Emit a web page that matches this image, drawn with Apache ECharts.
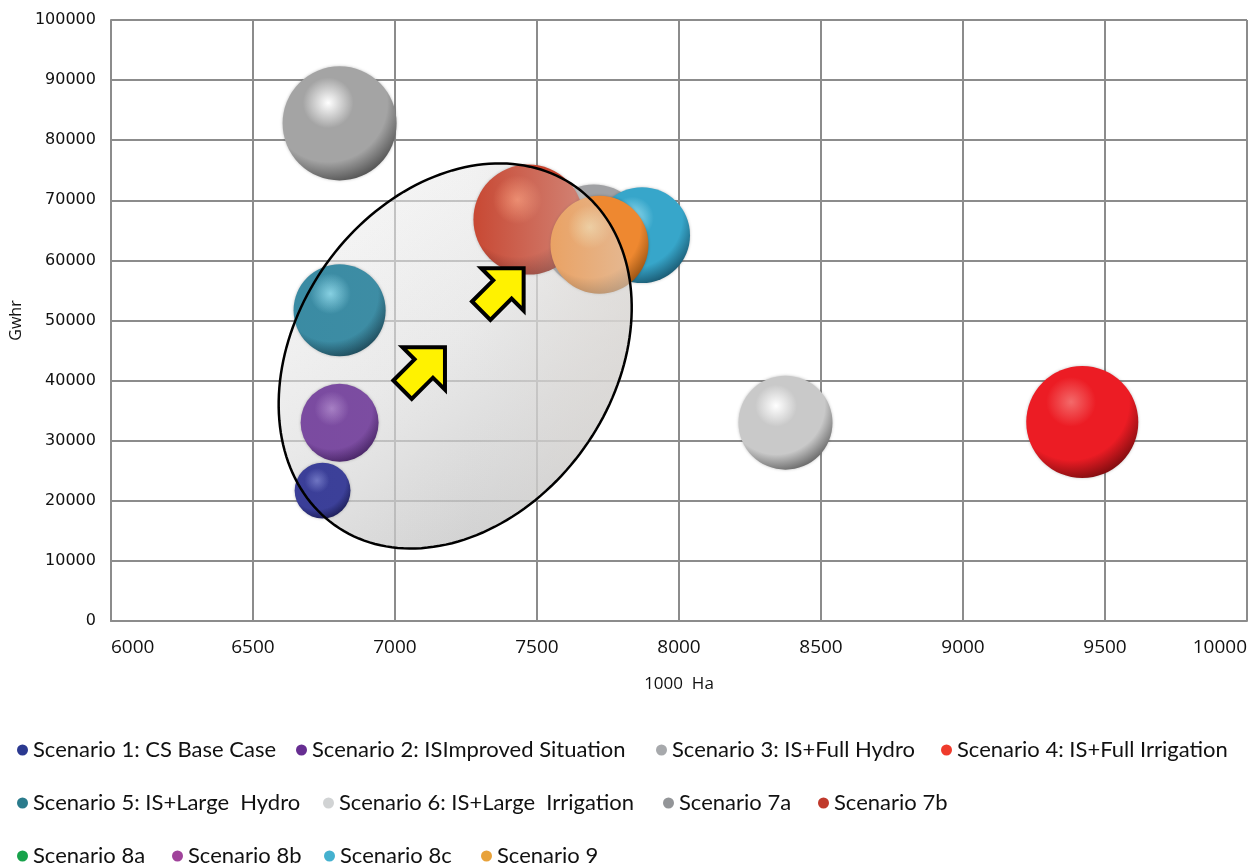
<!DOCTYPE html>
<html>
<head>
<meta charset="utf-8">
<script src="https://cdn.jsdelivr.net/npm/echarts@6/dist/echarts.min.js"></script>
<style>
  html, body { margin: 0; padding: 0; background: #ffffff; }
  #chart { width: 1259px; height: 868px; }
</style>
</head>
<body>
<div id="chart"></div>
<script>
// Scenario list (legend order = drawing order)
const scenarioNames = [
  'Scenario 1: CS Base Case',
  'Scenario 2: ISImproved Situation',
  'Scenario 3: IS+Full Hydro',
  'Scenario 4: IS+Full Irrigation',
  'Scenario 5: IS+Large  Hydro',
  'Scenario 6: IS+Large  Irrigation',
  'Scenario 7a',
  'Scenario 7b',
  'Scenario 8a',
  'Scenario 8b',
  'Scenario 8c',
  'Scenario 9'
];
// Irrigated area (1000 Ha), energy (Gwhr) and bubble magnitude per scenario
const irrigatedArea = [6745, 6805, 6805, 9420, 6805, 8375, 7700, 7470, null, null, 7870, 7720];
const energyGwhr    = [21700, 33000, 82800, 33100, 51700, 33000, 64000, 66800, null, null, 64200, 62600];
const bubbleValue   = [7.8, 15.2, 32.5, 31.4, 21.2, 22.1, 27.0, 30.3, null, null, 23.0, 24.0];

// Axis ranges
const xAxisRange = { min: 6000, max: 10000, interval: 500 };
const yAxisRange = { min: 0, max: 100000, interval: 10000 };

// Flat legend colours and sphere shading (highlight, body, shadow)
const legendColors = ['#2b3990', '#662d91', '#a7a9ac', '#ef3b2c', '#2a7b8c', '#d1d3d4',
                      '#939598', '#c0392b', '#18a24b', '#a0439b', '#45b1cf', '#e8a23a'];
const sphereShades = [
  ['#6e74c2', '#3a3e98', '#17184f'],
  ['#a67fc4', '#7a4aa0', '#3f1d5c'],
  ['#ffffff', '#a4a4a4', '#474747'],
  ['#f36a6a', '#ec1c24', '#6e0a0c'],
  ['#86d0e2', '#3a8ba3', '#173f4e'],
  ['#ffffff', '#c9c9c9', '#5a5a5a'],
  ['#dcdcde', '#a0a1a4', '#5e5f63'],
  ['#ee7a58', '#c7422c', '#7a1c12'],
  ['#70d190', '#1aa14b', '#0b5526'],
  ['#d290ce', '#a24a9e', '#561e54'],
  ['#98def0', '#37a6ca', '#164f66'],
  ['#f8c47a', '#ee8830', '#8a4a0e']
];

// Legend layout: three rows of items
const legendRows = [[0, 1, 2, 3], [4, 5, 6, 7], [8, 9, 10, 11]];
const legendRowCenterY = [750, 803, 856];
const legendItemLeft = [[17, 296, 656, 941], [17, 323, 663, 818], [17, 172, 324, 481]];

// Annotation: shaded ellipse and two arrows (anchored in data space)
const ellipseCenter = [7212, 44100];
const ellipseRadiiPx = [207.7, 158.4];
const ellipseAngleDeg = 54.55;
const arrowTips = [[7176, 45540], [7453, 58690]];

const chart = echarts.init(document.getElementById('chart'), null, { renderer: 'canvas' });

function sphereFill(i) {
  const s = sphereShades[i];
  return {
    type: 'radial', x: 0.4, y: 0.32, r: 0.74,
    colorStops: [
      { offset: 0, color: s[0] },
      { offset: 0.3, color: s[1] },
      { offset: 0.7, color: s[1] },
      { offset: 1, color: s[2] }
    ]
  };
}

const series = scenarioNames.map((name, i) => ({
  name: name,
  type: 'scatter',
  data: irrigatedArea[i] == null ? [] : [[irrigatedArea[i], energyGwhr[i], bubbleValue[i]]],
  symbol: 'circle',
  symbolSize: v => Math.sqrt(v[2]) * 20,
  itemStyle: { color: sphereFill(i), opacity: 1, shadowBlur: 3, shadowColor: 'rgba(0,0,0,0.25)' },
  emphasis: { disabled: true },
  z: 2
}));

const legendFont = { fontFamily: "'Lato'", fontSize: 22, color: '#111111', lineHeight: 24 };
const legends = [];
legendRows.forEach((row, r) => {
  row.forEach((idx, k) => {
    legends.push({
      data: [{ name: scenarioNames[idx], itemStyle: { color: legendColors[idx] } }],
      left: legendItemLeft[r][k],
      top: legendRowCenterY[r] - 12,
      padding: 0,
      icon: 'circle',
      itemWidth: 11,
      itemHeight: 11,
      itemGap: 0,
      selectedMode: false,
      textStyle: legendFont
    });
  });
});

const gridColor = '#8c8c8c';
const plainNumber = v => String(v);

chart.setOption({
  backgroundColor: '#ffffff',
  animation: false,
  grid: { left: 100, right: 12, top: 20, bottom: 247, containLabel: false },
  xAxis: {
    type: 'value',
    min: xAxisRange.min, max: xAxisRange.max, interval: xAxisRange.interval,
    name: '1000  Ha', nameLocation: 'middle', nameGap: 55,
    nameTextStyle: { fontFamily: "'Open Sans'", fontSize: 17, color: '#111111' },
    axisLine: { show: true, lineStyle: { color: gridColor, width: 2 } },
    axisTick: { show: false },
    axisLabel: { fontFamily: "'Open Sans'", fontSize: 19, color: '#111111', margin: 17,
                 alignMinLabel: 'left', alignMaxLabel: 'right', formatter: plainNumber },
    splitLine: { show: true, lineStyle: { color: gridColor, width: 2 } }
  },
  yAxis: {
    type: 'value',
    min: yAxisRange.min, max: yAxisRange.max, interval: yAxisRange.interval,
    name: 'Gwhr', nameLocation: 'middle', nameGap: 74, nameRotate: 90,
    nameTextStyle: { fontFamily: "'Open Sans'", fontSize: 16, color: '#111111' },
    axisLine: { show: true, lineStyle: { color: gridColor, width: 2 } },
    axisTick: { show: false },
    axisLabel: { fontFamily: "'DejaVu Sans'", fontSize: 16, color: '#111111', margin: 15,
                 formatter: plainNumber },
    splitLine: { show: true, lineStyle: { color: gridColor, width: 2 } }
  },
  legend: legends,
  series: series
});

// Arrow outline in a local frame: u runs from tail (0) to tip (len), v across
function arrowPoints(tipPx) {
  const len = 60, headDepth = 30, headHalf = 30, shaftHalf = 13;
  const local = [
    [0, -shaftHalf], [len - headDepth, -shaftHalf], [len - headDepth, -headHalf],
    [len, 0], [len - headDepth, headHalf], [len - headDepth, shaftHalf], [0, shaftHalf]
  ];
  const c = Math.SQRT1_2;
  const e = [c, -c];   // pointing up-right
  const n = [c, c];
  return local.map(([u, v]) => [
    tipPx[0] + (u - len) * e[0] + v * n[0],
    tipPx[1] + (u - len) * e[1] + v * n[1]
  ]);
}

// Rotated ellipse outline in screen space, so the fill gradients follow the screen
function ellipsePoints(centerPx) {
  const a = ellipseRadiiPx[0], b = ellipseRadiiPx[1];
  const t = ellipseAngleDeg * Math.PI / 180;
  const pts = [];
  for (let k = 0; k < 180; k++) {
    const s = k / 180 * Math.PI * 2;
    const lx = a * Math.cos(s), ly = b * Math.sin(s);
    pts.push([
      centerPx[0] + lx * Math.cos(t) - ly * Math.sin(t),
      centerPx[1] - lx * Math.sin(t) - ly * Math.cos(t)
    ]);
  }
  return pts;
}

const ellipsePx = ellipsePoints(chart.convertToPixel({ gridIndex: 0 }, ellipseCenter));
const graphics = [
  // shaded body, behind the bubbles but over the grid
  {
    type: 'polygon',
    shape: { points: ellipsePx },
    style: {
      fill: {
        type: 'linear', x: 0.15, y: 0.1, x2: 0.8, y2: 0.95,
        colorStops: [
          { offset: 0, color: 'rgba(238,238,238,0.55)' },
          { offset: 0.45, color: 'rgba(222,222,222,0.65)' },
          { offset: 1, color: 'rgba(190,190,190,0.8)' }
        ]
      }
    },
    z: 1
  },
  // translucent glaze over the bubbles near the right-hand rim, plus the outline
  {
    type: 'polygon',
    shape: { points: ellipsePx },
    style: {
      fill: {
        type: 'linear', x: 0, y: 0, x2: 1, y2: 0,
        colorStops: [
          { offset: 0, color: 'rgba(225,225,225,0)' },
          { offset: 0.55, color: 'rgba(225,225,225,0.04)' },
          { offset: 0.8, color: 'rgba(224,220,216,0.35)' },
          { offset: 1, color: 'rgba(222,218,214,0.6)' }
        ]
      },
      stroke: '#000000', lineWidth: 2.5
    },
    z: 50
  }
];
arrowTips.forEach(tip => {
  const p = chart.convertToPixel({ gridIndex: 0 }, tip);
  graphics.push({
    type: 'polygon',
    shape: { points: arrowPoints(p) },
    style: { fill: '#fff200', stroke: '#000000', lineWidth: 4, lineJoin: 'miter' },
    z: 60
  });
});
chart.setOption({ graphic: graphics });
</script>
</body>
</html>
